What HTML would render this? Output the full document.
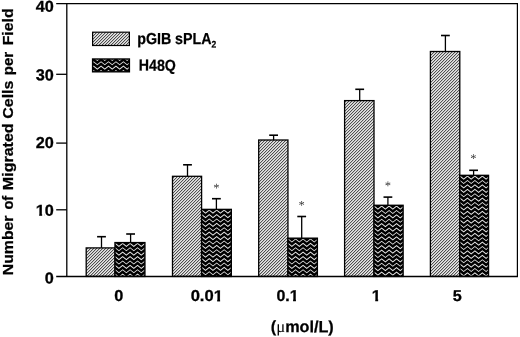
<!DOCTYPE html>
<html lang="en"><head><meta charset="utf-8"><title>Migrated cells per field</title>
<style>html,body{margin:0;padding:0;background:#fff}body{width:520px;height:337px;overflow:hidden}svg{display:block}text{font-family:"Liberation Sans", sans-serif;font-weight:bold;fill:#000;stroke:#000;stroke-width:0.25px}</style></head><body>
<svg width="520" height="337" viewBox="0 0 520 337">
<rect width="520" height="337" fill="#fff"/>
<defs>
</defs>
<path d="M101.50,247.90 V236.70" stroke="#000" stroke-width="1.3" fill="none"/><path d="M97.10,236.70 H105.90" stroke="#000" stroke-width="1.6" fill="none"/>
<clipPath id="ch0"><rect x="86.20" y="247.90" width="28.80" height="28.50"/></clipPath><rect x="86.20" y="247.90" width="28.80" height="28.50" fill="#fff"/><g clip-path="url(#ch0)"><path d="M53.08,276.40 h1.30 l28.50,-28.50 h-1.30 zM56.08,276.40 h1.30 l28.50,-28.50 h-1.30 zM59.08,276.40 h1.30 l28.50,-28.50 h-1.30 zM62.08,276.40 h1.30 l28.50,-28.50 h-1.30 zM65.08,276.40 h1.30 l28.50,-28.50 h-1.30 zM68.08,276.40 h1.30 l28.50,-28.50 h-1.30 zM71.08,276.40 h1.30 l28.50,-28.50 h-1.30 zM74.08,276.40 h1.30 l28.50,-28.50 h-1.30 zM77.08,276.40 h1.30 l28.50,-28.50 h-1.30 zM80.08,276.40 h1.30 l28.50,-28.50 h-1.30 zM83.08,276.40 h1.30 l28.50,-28.50 h-1.30 zM86.08,276.40 h1.30 l28.50,-28.50 h-1.30 zM89.08,276.40 h1.30 l28.50,-28.50 h-1.30 zM92.08,276.40 h1.30 l28.50,-28.50 h-1.30 zM95.08,276.40 h1.30 l28.50,-28.50 h-1.30 zM98.08,276.40 h1.30 l28.50,-28.50 h-1.30 zM101.08,276.40 h1.30 l28.50,-28.50 h-1.30 zM104.08,276.40 h1.30 l28.50,-28.50 h-1.30 zM107.08,276.40 h1.30 l28.50,-28.50 h-1.30 zM110.08,276.40 h1.30 l28.50,-28.50 h-1.30 zM113.08,276.40 h1.30 l28.50,-28.50 h-1.30 zM116.08,276.40 h1.30 l28.50,-28.50 h-1.30 z" fill="#333" stroke="none"/></g><rect x="86.20" y="247.90" width="28.80" height="28.50" fill="none" stroke="#000" stroke-width="1.30"/>
<path d="M130.60,242.60 V234.00" stroke="#000" stroke-width="1.3" fill="none"/><path d="M126.20,234.00 H135.00" stroke="#000" stroke-width="1.6" fill="none"/>
<clipPath id="cw1"><rect x="115.00" y="242.60" width="29.90" height="33.80"/></clipPath><rect x="115.00" y="242.60" width="29.90" height="33.80" fill="#000"/><path clip-path="url(#cw1)" d="M107.75,238.40 L111.47,241.40 L115.20,238.40 L118.92,241.40 L122.65,238.40 L126.38,241.40 L130.10,238.40 L133.82,241.40 L137.55,238.40 L141.27,241.40 L145.00,238.40 L148.72,241.40 L148.72,242.55 L145.00,239.55 L141.27,242.55 L137.55,239.55 L133.82,242.55 L130.10,239.55 L126.38,242.55 L122.65,239.55 L118.92,242.55 L115.20,239.55 L111.47,242.55 L107.75,239.55Z M107.75,242.80 L111.47,245.80 L115.20,242.80 L118.92,245.80 L122.65,242.80 L126.38,245.80 L130.10,242.80 L133.82,245.80 L137.55,242.80 L141.27,245.80 L145.00,242.80 L148.72,245.80 L148.72,246.95 L145.00,243.95 L141.27,246.95 L137.55,243.95 L133.82,246.95 L130.10,243.95 L126.38,246.95 L122.65,243.95 L118.92,246.95 L115.20,243.95 L111.47,246.95 L107.75,243.95Z M107.75,247.20 L111.47,250.20 L115.20,247.20 L118.92,250.20 L122.65,247.20 L126.38,250.20 L130.10,247.20 L133.82,250.20 L137.55,247.20 L141.27,250.20 L145.00,247.20 L148.72,250.20 L148.72,251.35 L145.00,248.35 L141.27,251.35 L137.55,248.35 L133.82,251.35 L130.10,248.35 L126.38,251.35 L122.65,248.35 L118.92,251.35 L115.20,248.35 L111.47,251.35 L107.75,248.35Z M107.75,251.60 L111.47,254.60 L115.20,251.60 L118.92,254.60 L122.65,251.60 L126.38,254.60 L130.10,251.60 L133.82,254.60 L137.55,251.60 L141.27,254.60 L145.00,251.60 L148.72,254.60 L148.72,255.75 L145.00,252.75 L141.27,255.75 L137.55,252.75 L133.82,255.75 L130.10,252.75 L126.38,255.75 L122.65,252.75 L118.92,255.75 L115.20,252.75 L111.47,255.75 L107.75,252.75Z M107.75,256.00 L111.47,259.00 L115.20,256.00 L118.92,259.00 L122.65,256.00 L126.38,259.00 L130.10,256.00 L133.82,259.00 L137.55,256.00 L141.27,259.00 L145.00,256.00 L148.72,259.00 L148.72,260.15 L145.00,257.15 L141.27,260.15 L137.55,257.15 L133.82,260.15 L130.10,257.15 L126.38,260.15 L122.65,257.15 L118.92,260.15 L115.20,257.15 L111.47,260.15 L107.75,257.15Z M107.75,260.40 L111.47,263.40 L115.20,260.40 L118.92,263.40 L122.65,260.40 L126.38,263.40 L130.10,260.40 L133.82,263.40 L137.55,260.40 L141.27,263.40 L145.00,260.40 L148.72,263.40 L148.72,264.55 L145.00,261.55 L141.27,264.55 L137.55,261.55 L133.82,264.55 L130.10,261.55 L126.38,264.55 L122.65,261.55 L118.92,264.55 L115.20,261.55 L111.47,264.55 L107.75,261.55Z M107.75,264.80 L111.47,267.80 L115.20,264.80 L118.92,267.80 L122.65,264.80 L126.38,267.80 L130.10,264.80 L133.82,267.80 L137.55,264.80 L141.27,267.80 L145.00,264.80 L148.72,267.80 L148.72,268.95 L145.00,265.95 L141.27,268.95 L137.55,265.95 L133.82,268.95 L130.10,265.95 L126.38,268.95 L122.65,265.95 L118.92,268.95 L115.20,265.95 L111.47,268.95 L107.75,265.95Z M107.75,269.20 L111.47,272.20 L115.20,269.20 L118.92,272.20 L122.65,269.20 L126.38,272.20 L130.10,269.20 L133.82,272.20 L137.55,269.20 L141.27,272.20 L145.00,269.20 L148.72,272.20 L148.72,273.35 L145.00,270.35 L141.27,273.35 L137.55,270.35 L133.82,273.35 L130.10,270.35 L126.38,273.35 L122.65,270.35 L118.92,273.35 L115.20,270.35 L111.47,273.35 L107.75,270.35Z M107.75,273.60 L111.47,276.60 L115.20,273.60 L118.92,276.60 L122.65,273.60 L126.38,276.60 L130.10,273.60 L133.82,276.60 L137.55,273.60 L141.27,276.60 L145.00,273.60 L148.72,276.60 L148.72,277.75 L145.00,274.75 L141.27,277.75 L137.55,274.75 L133.82,277.75 L130.10,274.75 L126.38,277.75 L122.65,274.75 L118.92,277.75 L115.20,274.75 L111.47,277.75 L107.75,274.75Z M107.75,278.00 L111.47,281.00 L115.20,278.00 L118.92,281.00 L122.65,278.00 L126.38,281.00 L130.10,278.00 L133.82,281.00 L137.55,278.00 L141.27,281.00 L145.00,278.00 L148.72,281.00 L148.72,282.15 L145.00,279.15 L141.27,282.15 L137.55,279.15 L133.82,282.15 L130.10,279.15 L126.38,282.15 L122.65,279.15 L118.92,282.15 L115.20,279.15 L111.47,282.15 L107.75,279.15Z" fill="#e8e8e8" stroke="none"/>
<rect x="115.00" y="242.60" width="29.90" height="33.80" fill="none" stroke="#000" stroke-width="1.4"/>
<path d="M187.50,176.30 V164.80" stroke="#000" stroke-width="1.3" fill="none"/><path d="M183.10,164.80 H191.90" stroke="#000" stroke-width="1.6" fill="none"/>
<clipPath id="ch2"><rect x="172.50" y="176.30" width="29.10" height="100.10"/></clipPath><rect x="172.50" y="176.30" width="29.10" height="100.10" fill="#fff"/><g clip-path="url(#ch2)"><path d="M68.08,276.40 h1.30 l100.10,-100.10 h-1.30 zM71.08,276.40 h1.30 l100.10,-100.10 h-1.30 zM74.08,276.40 h1.30 l100.10,-100.10 h-1.30 zM77.08,276.40 h1.30 l100.10,-100.10 h-1.30 zM80.08,276.40 h1.30 l100.10,-100.10 h-1.30 zM83.08,276.40 h1.30 l100.10,-100.10 h-1.30 zM86.08,276.40 h1.30 l100.10,-100.10 h-1.30 zM89.08,276.40 h1.30 l100.10,-100.10 h-1.30 zM92.08,276.40 h1.30 l100.10,-100.10 h-1.30 zM95.08,276.40 h1.30 l100.10,-100.10 h-1.30 zM98.08,276.40 h1.30 l100.10,-100.10 h-1.30 zM101.08,276.40 h1.30 l100.10,-100.10 h-1.30 zM104.08,276.40 h1.30 l100.10,-100.10 h-1.30 zM107.08,276.40 h1.30 l100.10,-100.10 h-1.30 zM110.08,276.40 h1.30 l100.10,-100.10 h-1.30 zM113.08,276.40 h1.30 l100.10,-100.10 h-1.30 zM116.08,276.40 h1.30 l100.10,-100.10 h-1.30 zM119.08,276.40 h1.30 l100.10,-100.10 h-1.30 zM122.08,276.40 h1.30 l100.10,-100.10 h-1.30 zM125.08,276.40 h1.30 l100.10,-100.10 h-1.30 zM128.08,276.40 h1.30 l100.10,-100.10 h-1.30 zM131.08,276.40 h1.30 l100.10,-100.10 h-1.30 zM134.08,276.40 h1.30 l100.10,-100.10 h-1.30 zM137.08,276.40 h1.30 l100.10,-100.10 h-1.30 zM140.08,276.40 h1.30 l100.10,-100.10 h-1.30 zM143.08,276.40 h1.30 l100.10,-100.10 h-1.30 zM146.08,276.40 h1.30 l100.10,-100.10 h-1.30 zM149.08,276.40 h1.30 l100.10,-100.10 h-1.30 zM152.08,276.40 h1.30 l100.10,-100.10 h-1.30 zM155.08,276.40 h1.30 l100.10,-100.10 h-1.30 zM158.08,276.40 h1.30 l100.10,-100.10 h-1.30 zM161.08,276.40 h1.30 l100.10,-100.10 h-1.30 zM164.08,276.40 h1.30 l100.10,-100.10 h-1.30 zM167.08,276.40 h1.30 l100.10,-100.10 h-1.30 zM170.08,276.40 h1.30 l100.10,-100.10 h-1.30 zM173.08,276.40 h1.30 l100.10,-100.10 h-1.30 zM176.08,276.40 h1.30 l100.10,-100.10 h-1.30 zM179.08,276.40 h1.30 l100.10,-100.10 h-1.30 zM182.08,276.40 h1.30 l100.10,-100.10 h-1.30 zM185.08,276.40 h1.30 l100.10,-100.10 h-1.30 zM188.08,276.40 h1.30 l100.10,-100.10 h-1.30 zM191.08,276.40 h1.30 l100.10,-100.10 h-1.30 zM194.08,276.40 h1.30 l100.10,-100.10 h-1.30 zM197.08,276.40 h1.30 l100.10,-100.10 h-1.30 zM200.08,276.40 h1.30 l100.10,-100.10 h-1.30 zM203.08,276.40 h1.30 l100.10,-100.10 h-1.30 z" fill="#333" stroke="none"/></g><rect x="172.50" y="176.30" width="29.10" height="100.10" fill="none" stroke="#000" stroke-width="1.30"/>
<path d="M216.40,209.40 V198.70" stroke="#000" stroke-width="1.3" fill="none"/><path d="M212.00,198.70 H220.80" stroke="#000" stroke-width="1.6" fill="none"/>
<clipPath id="cw3"><rect x="201.60" y="209.40" width="29.70" height="67.00"/></clipPath><rect x="201.60" y="209.40" width="29.70" height="67.00" fill="#000"/><path clip-path="url(#cw3)" d="M194.35,205.20 L198.07,208.20 L201.80,205.20 L205.52,208.20 L209.25,205.20 L212.97,208.20 L216.70,205.20 L220.42,208.20 L224.15,205.20 L227.87,208.20 L231.60,205.20 L235.32,208.20 L235.32,209.35 L231.60,206.35 L227.87,209.35 L224.15,206.35 L220.42,209.35 L216.70,206.35 L212.97,209.35 L209.25,206.35 L205.52,209.35 L201.80,206.35 L198.07,209.35 L194.35,206.35Z M194.35,209.60 L198.07,212.60 L201.80,209.60 L205.52,212.60 L209.25,209.60 L212.97,212.60 L216.70,209.60 L220.42,212.60 L224.15,209.60 L227.87,212.60 L231.60,209.60 L235.32,212.60 L235.32,213.75 L231.60,210.75 L227.87,213.75 L224.15,210.75 L220.42,213.75 L216.70,210.75 L212.97,213.75 L209.25,210.75 L205.52,213.75 L201.80,210.75 L198.07,213.75 L194.35,210.75Z M194.35,214.00 L198.07,217.00 L201.80,214.00 L205.52,217.00 L209.25,214.00 L212.97,217.00 L216.70,214.00 L220.42,217.00 L224.15,214.00 L227.87,217.00 L231.60,214.00 L235.32,217.00 L235.32,218.15 L231.60,215.15 L227.87,218.15 L224.15,215.15 L220.42,218.15 L216.70,215.15 L212.97,218.15 L209.25,215.15 L205.52,218.15 L201.80,215.15 L198.07,218.15 L194.35,215.15Z M194.35,218.40 L198.07,221.40 L201.80,218.40 L205.52,221.40 L209.25,218.40 L212.97,221.40 L216.70,218.40 L220.42,221.40 L224.15,218.40 L227.87,221.40 L231.60,218.40 L235.32,221.40 L235.32,222.55 L231.60,219.55 L227.87,222.55 L224.15,219.55 L220.42,222.55 L216.70,219.55 L212.97,222.55 L209.25,219.55 L205.52,222.55 L201.80,219.55 L198.07,222.55 L194.35,219.55Z M194.35,222.80 L198.07,225.80 L201.80,222.80 L205.52,225.80 L209.25,222.80 L212.97,225.80 L216.70,222.80 L220.42,225.80 L224.15,222.80 L227.87,225.80 L231.60,222.80 L235.32,225.80 L235.32,226.95 L231.60,223.95 L227.87,226.95 L224.15,223.95 L220.42,226.95 L216.70,223.95 L212.97,226.95 L209.25,223.95 L205.52,226.95 L201.80,223.95 L198.07,226.95 L194.35,223.95Z M194.35,227.20 L198.07,230.20 L201.80,227.20 L205.52,230.20 L209.25,227.20 L212.97,230.20 L216.70,227.20 L220.42,230.20 L224.15,227.20 L227.87,230.20 L231.60,227.20 L235.32,230.20 L235.32,231.35 L231.60,228.35 L227.87,231.35 L224.15,228.35 L220.42,231.35 L216.70,228.35 L212.97,231.35 L209.25,228.35 L205.52,231.35 L201.80,228.35 L198.07,231.35 L194.35,228.35Z M194.35,231.60 L198.07,234.60 L201.80,231.60 L205.52,234.60 L209.25,231.60 L212.97,234.60 L216.70,231.60 L220.42,234.60 L224.15,231.60 L227.87,234.60 L231.60,231.60 L235.32,234.60 L235.32,235.75 L231.60,232.75 L227.87,235.75 L224.15,232.75 L220.42,235.75 L216.70,232.75 L212.97,235.75 L209.25,232.75 L205.52,235.75 L201.80,232.75 L198.07,235.75 L194.35,232.75Z M194.35,236.00 L198.07,239.00 L201.80,236.00 L205.52,239.00 L209.25,236.00 L212.97,239.00 L216.70,236.00 L220.42,239.00 L224.15,236.00 L227.87,239.00 L231.60,236.00 L235.32,239.00 L235.32,240.15 L231.60,237.15 L227.87,240.15 L224.15,237.15 L220.42,240.15 L216.70,237.15 L212.97,240.15 L209.25,237.15 L205.52,240.15 L201.80,237.15 L198.07,240.15 L194.35,237.15Z M194.35,240.40 L198.07,243.40 L201.80,240.40 L205.52,243.40 L209.25,240.40 L212.97,243.40 L216.70,240.40 L220.42,243.40 L224.15,240.40 L227.87,243.40 L231.60,240.40 L235.32,243.40 L235.32,244.55 L231.60,241.55 L227.87,244.55 L224.15,241.55 L220.42,244.55 L216.70,241.55 L212.97,244.55 L209.25,241.55 L205.52,244.55 L201.80,241.55 L198.07,244.55 L194.35,241.55Z M194.35,244.80 L198.07,247.80 L201.80,244.80 L205.52,247.80 L209.25,244.80 L212.97,247.80 L216.70,244.80 L220.42,247.80 L224.15,244.80 L227.87,247.80 L231.60,244.80 L235.32,247.80 L235.32,248.95 L231.60,245.95 L227.87,248.95 L224.15,245.95 L220.42,248.95 L216.70,245.95 L212.97,248.95 L209.25,245.95 L205.52,248.95 L201.80,245.95 L198.07,248.95 L194.35,245.95Z M194.35,249.20 L198.07,252.20 L201.80,249.20 L205.52,252.20 L209.25,249.20 L212.97,252.20 L216.70,249.20 L220.42,252.20 L224.15,249.20 L227.87,252.20 L231.60,249.20 L235.32,252.20 L235.32,253.35 L231.60,250.35 L227.87,253.35 L224.15,250.35 L220.42,253.35 L216.70,250.35 L212.97,253.35 L209.25,250.35 L205.52,253.35 L201.80,250.35 L198.07,253.35 L194.35,250.35Z M194.35,253.60 L198.07,256.60 L201.80,253.60 L205.52,256.60 L209.25,253.60 L212.97,256.60 L216.70,253.60 L220.42,256.60 L224.15,253.60 L227.87,256.60 L231.60,253.60 L235.32,256.60 L235.32,257.75 L231.60,254.75 L227.87,257.75 L224.15,254.75 L220.42,257.75 L216.70,254.75 L212.97,257.75 L209.25,254.75 L205.52,257.75 L201.80,254.75 L198.07,257.75 L194.35,254.75Z M194.35,258.00 L198.07,261.00 L201.80,258.00 L205.52,261.00 L209.25,258.00 L212.97,261.00 L216.70,258.00 L220.42,261.00 L224.15,258.00 L227.87,261.00 L231.60,258.00 L235.32,261.00 L235.32,262.15 L231.60,259.15 L227.87,262.15 L224.15,259.15 L220.42,262.15 L216.70,259.15 L212.97,262.15 L209.25,259.15 L205.52,262.15 L201.80,259.15 L198.07,262.15 L194.35,259.15Z M194.35,262.40 L198.07,265.40 L201.80,262.40 L205.52,265.40 L209.25,262.40 L212.97,265.40 L216.70,262.40 L220.42,265.40 L224.15,262.40 L227.87,265.40 L231.60,262.40 L235.32,265.40 L235.32,266.55 L231.60,263.55 L227.87,266.55 L224.15,263.55 L220.42,266.55 L216.70,263.55 L212.97,266.55 L209.25,263.55 L205.52,266.55 L201.80,263.55 L198.07,266.55 L194.35,263.55Z M194.35,266.80 L198.07,269.80 L201.80,266.80 L205.52,269.80 L209.25,266.80 L212.97,269.80 L216.70,266.80 L220.42,269.80 L224.15,266.80 L227.87,269.80 L231.60,266.80 L235.32,269.80 L235.32,270.95 L231.60,267.95 L227.87,270.95 L224.15,267.95 L220.42,270.95 L216.70,267.95 L212.97,270.95 L209.25,267.95 L205.52,270.95 L201.80,267.95 L198.07,270.95 L194.35,267.95Z M194.35,271.20 L198.07,274.20 L201.80,271.20 L205.52,274.20 L209.25,271.20 L212.97,274.20 L216.70,271.20 L220.42,274.20 L224.15,271.20 L227.87,274.20 L231.60,271.20 L235.32,274.20 L235.32,275.35 L231.60,272.35 L227.87,275.35 L224.15,272.35 L220.42,275.35 L216.70,272.35 L212.97,275.35 L209.25,272.35 L205.52,275.35 L201.80,272.35 L198.07,275.35 L194.35,272.35Z M194.35,275.60 L198.07,278.60 L201.80,275.60 L205.52,278.60 L209.25,275.60 L212.97,278.60 L216.70,275.60 L220.42,278.60 L224.15,275.60 L227.87,278.60 L231.60,275.60 L235.32,278.60 L235.32,279.75 L231.60,276.75 L227.87,279.75 L224.15,276.75 L220.42,279.75 L216.70,276.75 L212.97,279.75 L209.25,276.75 L205.52,279.75 L201.80,276.75 L198.07,279.75 L194.35,276.75Z M194.35,280.00 L198.07,283.00 L201.80,280.00 L205.52,283.00 L209.25,280.00 L212.97,283.00 L216.70,280.00 L220.42,283.00 L224.15,280.00 L227.87,283.00 L231.60,280.00 L235.32,283.00 L235.32,284.15 L231.60,281.15 L227.87,284.15 L224.15,281.15 L220.42,284.15 L216.70,281.15 L212.97,284.15 L209.25,281.15 L205.52,284.15 L201.80,281.15 L198.07,284.15 L194.35,281.15Z" fill="#e8e8e8" stroke="none"/>
<rect x="201.60" y="209.40" width="29.70" height="67.00" fill="none" stroke="#000" stroke-width="1.4"/>
<path d="M273.60,140.00 V135.20" stroke="#000" stroke-width="1.3" fill="none"/><path d="M269.20,135.20 H278.00" stroke="#000" stroke-width="1.6" fill="none"/>
<clipPath id="ch4"><rect x="258.70" y="140.00" width="29.25" height="136.40"/></clipPath><rect x="258.70" y="140.00" width="29.25" height="136.40" fill="#fff"/><g clip-path="url(#ch4)"><path d="M119.08,276.40 h1.30 l136.40,-136.40 h-1.30 zM122.08,276.40 h1.30 l136.40,-136.40 h-1.30 zM125.08,276.40 h1.30 l136.40,-136.40 h-1.30 zM128.08,276.40 h1.30 l136.40,-136.40 h-1.30 zM131.08,276.40 h1.30 l136.40,-136.40 h-1.30 zM134.08,276.40 h1.30 l136.40,-136.40 h-1.30 zM137.08,276.40 h1.30 l136.40,-136.40 h-1.30 zM140.08,276.40 h1.30 l136.40,-136.40 h-1.30 zM143.08,276.40 h1.30 l136.40,-136.40 h-1.30 zM146.08,276.40 h1.30 l136.40,-136.40 h-1.30 zM149.08,276.40 h1.30 l136.40,-136.40 h-1.30 zM152.08,276.40 h1.30 l136.40,-136.40 h-1.30 zM155.08,276.40 h1.30 l136.40,-136.40 h-1.30 zM158.08,276.40 h1.30 l136.40,-136.40 h-1.30 zM161.08,276.40 h1.30 l136.40,-136.40 h-1.30 zM164.08,276.40 h1.30 l136.40,-136.40 h-1.30 zM167.08,276.40 h1.30 l136.40,-136.40 h-1.30 zM170.08,276.40 h1.30 l136.40,-136.40 h-1.30 zM173.08,276.40 h1.30 l136.40,-136.40 h-1.30 zM176.08,276.40 h1.30 l136.40,-136.40 h-1.30 zM179.08,276.40 h1.30 l136.40,-136.40 h-1.30 zM182.08,276.40 h1.30 l136.40,-136.40 h-1.30 zM185.08,276.40 h1.30 l136.40,-136.40 h-1.30 zM188.08,276.40 h1.30 l136.40,-136.40 h-1.30 zM191.08,276.40 h1.30 l136.40,-136.40 h-1.30 zM194.08,276.40 h1.30 l136.40,-136.40 h-1.30 zM197.08,276.40 h1.30 l136.40,-136.40 h-1.30 zM200.08,276.40 h1.30 l136.40,-136.40 h-1.30 zM203.08,276.40 h1.30 l136.40,-136.40 h-1.30 zM206.08,276.40 h1.30 l136.40,-136.40 h-1.30 zM209.08,276.40 h1.30 l136.40,-136.40 h-1.30 zM212.08,276.40 h1.30 l136.40,-136.40 h-1.30 zM215.08,276.40 h1.30 l136.40,-136.40 h-1.30 zM218.08,276.40 h1.30 l136.40,-136.40 h-1.30 zM221.08,276.40 h1.30 l136.40,-136.40 h-1.30 zM224.08,276.40 h1.30 l136.40,-136.40 h-1.30 zM227.08,276.40 h1.30 l136.40,-136.40 h-1.30 zM230.08,276.40 h1.30 l136.40,-136.40 h-1.30 zM233.08,276.40 h1.30 l136.40,-136.40 h-1.30 zM236.08,276.40 h1.30 l136.40,-136.40 h-1.30 zM239.08,276.40 h1.30 l136.40,-136.40 h-1.30 zM242.08,276.40 h1.30 l136.40,-136.40 h-1.30 zM245.08,276.40 h1.30 l136.40,-136.40 h-1.30 zM248.08,276.40 h1.30 l136.40,-136.40 h-1.30 zM251.08,276.40 h1.30 l136.40,-136.40 h-1.30 zM254.08,276.40 h1.30 l136.40,-136.40 h-1.30 zM257.08,276.40 h1.30 l136.40,-136.40 h-1.30 zM260.08,276.40 h1.30 l136.40,-136.40 h-1.30 zM263.08,276.40 h1.30 l136.40,-136.40 h-1.30 zM266.08,276.40 h1.30 l136.40,-136.40 h-1.30 zM269.08,276.40 h1.30 l136.40,-136.40 h-1.30 zM272.08,276.40 h1.30 l136.40,-136.40 h-1.30 zM275.08,276.40 h1.30 l136.40,-136.40 h-1.30 zM278.08,276.40 h1.30 l136.40,-136.40 h-1.30 zM281.08,276.40 h1.30 l136.40,-136.40 h-1.30 zM284.08,276.40 h1.30 l136.40,-136.40 h-1.30 zM287.08,276.40 h1.30 l136.40,-136.40 h-1.30 zM290.08,276.40 h1.30 l136.40,-136.40 h-1.30 z" fill="#333" stroke="none"/></g><rect x="258.70" y="140.00" width="29.25" height="136.40" fill="none" stroke="#000" stroke-width="1.30"/>
<path d="M301.70,238.20 V216.50" stroke="#000" stroke-width="1.3" fill="none"/><path d="M297.30,216.50 H306.10" stroke="#000" stroke-width="1.6" fill="none"/>
<clipPath id="cw5"><rect x="287.95" y="238.20" width="29.40" height="38.20"/></clipPath><rect x="287.95" y="238.20" width="29.40" height="38.20" fill="#000"/><path clip-path="url(#cw5)" d="M280.70,234.00 L284.43,237.00 L288.15,234.00 L291.88,237.00 L295.60,234.00 L299.32,237.00 L303.05,234.00 L306.77,237.00 L310.50,234.00 L314.22,237.00 L317.95,234.00 L321.67,237.00 L321.67,238.15 L317.95,235.15 L314.22,238.15 L310.50,235.15 L306.77,238.15 L303.05,235.15 L299.32,238.15 L295.60,235.15 L291.88,238.15 L288.15,235.15 L284.43,238.15 L280.70,235.15Z M280.70,238.40 L284.43,241.40 L288.15,238.40 L291.88,241.40 L295.60,238.40 L299.32,241.40 L303.05,238.40 L306.77,241.40 L310.50,238.40 L314.22,241.40 L317.95,238.40 L321.67,241.40 L321.67,242.55 L317.95,239.55 L314.22,242.55 L310.50,239.55 L306.77,242.55 L303.05,239.55 L299.32,242.55 L295.60,239.55 L291.88,242.55 L288.15,239.55 L284.43,242.55 L280.70,239.55Z M280.70,242.80 L284.43,245.80 L288.15,242.80 L291.88,245.80 L295.60,242.80 L299.32,245.80 L303.05,242.80 L306.77,245.80 L310.50,242.80 L314.22,245.80 L317.95,242.80 L321.67,245.80 L321.67,246.95 L317.95,243.95 L314.22,246.95 L310.50,243.95 L306.77,246.95 L303.05,243.95 L299.32,246.95 L295.60,243.95 L291.88,246.95 L288.15,243.95 L284.43,246.95 L280.70,243.95Z M280.70,247.20 L284.43,250.20 L288.15,247.20 L291.88,250.20 L295.60,247.20 L299.32,250.20 L303.05,247.20 L306.77,250.20 L310.50,247.20 L314.22,250.20 L317.95,247.20 L321.67,250.20 L321.67,251.35 L317.95,248.35 L314.22,251.35 L310.50,248.35 L306.77,251.35 L303.05,248.35 L299.32,251.35 L295.60,248.35 L291.88,251.35 L288.15,248.35 L284.43,251.35 L280.70,248.35Z M280.70,251.60 L284.43,254.60 L288.15,251.60 L291.88,254.60 L295.60,251.60 L299.32,254.60 L303.05,251.60 L306.77,254.60 L310.50,251.60 L314.22,254.60 L317.95,251.60 L321.67,254.60 L321.67,255.75 L317.95,252.75 L314.22,255.75 L310.50,252.75 L306.77,255.75 L303.05,252.75 L299.32,255.75 L295.60,252.75 L291.88,255.75 L288.15,252.75 L284.43,255.75 L280.70,252.75Z M280.70,256.00 L284.43,259.00 L288.15,256.00 L291.88,259.00 L295.60,256.00 L299.32,259.00 L303.05,256.00 L306.77,259.00 L310.50,256.00 L314.22,259.00 L317.95,256.00 L321.67,259.00 L321.67,260.15 L317.95,257.15 L314.22,260.15 L310.50,257.15 L306.77,260.15 L303.05,257.15 L299.32,260.15 L295.60,257.15 L291.88,260.15 L288.15,257.15 L284.43,260.15 L280.70,257.15Z M280.70,260.40 L284.43,263.40 L288.15,260.40 L291.88,263.40 L295.60,260.40 L299.32,263.40 L303.05,260.40 L306.77,263.40 L310.50,260.40 L314.22,263.40 L317.95,260.40 L321.67,263.40 L321.67,264.55 L317.95,261.55 L314.22,264.55 L310.50,261.55 L306.77,264.55 L303.05,261.55 L299.32,264.55 L295.60,261.55 L291.88,264.55 L288.15,261.55 L284.43,264.55 L280.70,261.55Z M280.70,264.80 L284.43,267.80 L288.15,264.80 L291.88,267.80 L295.60,264.80 L299.32,267.80 L303.05,264.80 L306.77,267.80 L310.50,264.80 L314.22,267.80 L317.95,264.80 L321.67,267.80 L321.67,268.95 L317.95,265.95 L314.22,268.95 L310.50,265.95 L306.77,268.95 L303.05,265.95 L299.32,268.95 L295.60,265.95 L291.88,268.95 L288.15,265.95 L284.43,268.95 L280.70,265.95Z M280.70,269.20 L284.43,272.20 L288.15,269.20 L291.88,272.20 L295.60,269.20 L299.32,272.20 L303.05,269.20 L306.77,272.20 L310.50,269.20 L314.22,272.20 L317.95,269.20 L321.67,272.20 L321.67,273.35 L317.95,270.35 L314.22,273.35 L310.50,270.35 L306.77,273.35 L303.05,270.35 L299.32,273.35 L295.60,270.35 L291.88,273.35 L288.15,270.35 L284.43,273.35 L280.70,270.35Z M280.70,273.60 L284.43,276.60 L288.15,273.60 L291.88,276.60 L295.60,273.60 L299.32,276.60 L303.05,273.60 L306.77,276.60 L310.50,273.60 L314.22,276.60 L317.95,273.60 L321.67,276.60 L321.67,277.75 L317.95,274.75 L314.22,277.75 L310.50,274.75 L306.77,277.75 L303.05,274.75 L299.32,277.75 L295.60,274.75 L291.88,277.75 L288.15,274.75 L284.43,277.75 L280.70,274.75Z M280.70,278.00 L284.43,281.00 L288.15,278.00 L291.88,281.00 L295.60,278.00 L299.32,281.00 L303.05,278.00 L306.77,281.00 L310.50,278.00 L314.22,281.00 L317.95,278.00 L321.67,281.00 L321.67,282.15 L317.95,279.15 L314.22,282.15 L310.50,279.15 L306.77,282.15 L303.05,279.15 L299.32,282.15 L295.60,279.15 L291.88,282.15 L288.15,279.15 L284.43,282.15 L280.70,279.15Z" fill="#e8e8e8" stroke="none"/>
<rect x="287.95" y="238.20" width="29.40" height="38.20" fill="none" stroke="#000" stroke-width="1.4"/>
<path d="M359.70,100.60 V89.30" stroke="#000" stroke-width="1.3" fill="none"/><path d="M355.30,89.30 H364.10" stroke="#000" stroke-width="1.6" fill="none"/>
<clipPath id="ch6"><rect x="344.60" y="100.60" width="29.40" height="175.80"/></clipPath><rect x="344.60" y="100.60" width="29.40" height="175.80" fill="#fff"/><g clip-path="url(#ch6)"><path d="M164.08,276.40 h1.30 l175.80,-175.80 h-1.30 zM167.08,276.40 h1.30 l175.80,-175.80 h-1.30 zM170.08,276.40 h1.30 l175.80,-175.80 h-1.30 zM173.08,276.40 h1.30 l175.80,-175.80 h-1.30 zM176.08,276.40 h1.30 l175.80,-175.80 h-1.30 zM179.08,276.40 h1.30 l175.80,-175.80 h-1.30 zM182.08,276.40 h1.30 l175.80,-175.80 h-1.30 zM185.08,276.40 h1.30 l175.80,-175.80 h-1.30 zM188.08,276.40 h1.30 l175.80,-175.80 h-1.30 zM191.08,276.40 h1.30 l175.80,-175.80 h-1.30 zM194.08,276.40 h1.30 l175.80,-175.80 h-1.30 zM197.08,276.40 h1.30 l175.80,-175.80 h-1.30 zM200.08,276.40 h1.30 l175.80,-175.80 h-1.30 zM203.08,276.40 h1.30 l175.80,-175.80 h-1.30 zM206.08,276.40 h1.30 l175.80,-175.80 h-1.30 zM209.08,276.40 h1.30 l175.80,-175.80 h-1.30 zM212.08,276.40 h1.30 l175.80,-175.80 h-1.30 zM215.08,276.40 h1.30 l175.80,-175.80 h-1.30 zM218.08,276.40 h1.30 l175.80,-175.80 h-1.30 zM221.08,276.40 h1.30 l175.80,-175.80 h-1.30 zM224.08,276.40 h1.30 l175.80,-175.80 h-1.30 zM227.08,276.40 h1.30 l175.80,-175.80 h-1.30 zM230.08,276.40 h1.30 l175.80,-175.80 h-1.30 zM233.08,276.40 h1.30 l175.80,-175.80 h-1.30 zM236.08,276.40 h1.30 l175.80,-175.80 h-1.30 zM239.08,276.40 h1.30 l175.80,-175.80 h-1.30 zM242.08,276.40 h1.30 l175.80,-175.80 h-1.30 zM245.08,276.40 h1.30 l175.80,-175.80 h-1.30 zM248.08,276.40 h1.30 l175.80,-175.80 h-1.30 zM251.08,276.40 h1.30 l175.80,-175.80 h-1.30 zM254.08,276.40 h1.30 l175.80,-175.80 h-1.30 zM257.08,276.40 h1.30 l175.80,-175.80 h-1.30 zM260.08,276.40 h1.30 l175.80,-175.80 h-1.30 zM263.08,276.40 h1.30 l175.80,-175.80 h-1.30 zM266.08,276.40 h1.30 l175.80,-175.80 h-1.30 zM269.08,276.40 h1.30 l175.80,-175.80 h-1.30 zM272.08,276.40 h1.30 l175.80,-175.80 h-1.30 zM275.08,276.40 h1.30 l175.80,-175.80 h-1.30 zM278.08,276.40 h1.30 l175.80,-175.80 h-1.30 zM281.08,276.40 h1.30 l175.80,-175.80 h-1.30 zM284.08,276.40 h1.30 l175.80,-175.80 h-1.30 zM287.08,276.40 h1.30 l175.80,-175.80 h-1.30 zM290.08,276.40 h1.30 l175.80,-175.80 h-1.30 zM293.08,276.40 h1.30 l175.80,-175.80 h-1.30 zM296.08,276.40 h1.30 l175.80,-175.80 h-1.30 zM299.08,276.40 h1.30 l175.80,-175.80 h-1.30 zM302.08,276.40 h1.30 l175.80,-175.80 h-1.30 zM305.08,276.40 h1.30 l175.80,-175.80 h-1.30 zM308.08,276.40 h1.30 l175.80,-175.80 h-1.30 zM311.08,276.40 h1.30 l175.80,-175.80 h-1.30 zM314.08,276.40 h1.30 l175.80,-175.80 h-1.30 zM317.08,276.40 h1.30 l175.80,-175.80 h-1.30 zM320.08,276.40 h1.30 l175.80,-175.80 h-1.30 zM323.08,276.40 h1.30 l175.80,-175.80 h-1.30 zM326.08,276.40 h1.30 l175.80,-175.80 h-1.30 zM329.08,276.40 h1.30 l175.80,-175.80 h-1.30 zM332.08,276.40 h1.30 l175.80,-175.80 h-1.30 zM335.08,276.40 h1.30 l175.80,-175.80 h-1.30 zM338.08,276.40 h1.30 l175.80,-175.80 h-1.30 zM341.08,276.40 h1.30 l175.80,-175.80 h-1.30 zM344.08,276.40 h1.30 l175.80,-175.80 h-1.30 zM347.08,276.40 h1.30 l175.80,-175.80 h-1.30 zM350.08,276.40 h1.30 l175.80,-175.80 h-1.30 zM353.08,276.40 h1.30 l175.80,-175.80 h-1.30 zM356.08,276.40 h1.30 l175.80,-175.80 h-1.30 zM359.08,276.40 h1.30 l175.80,-175.80 h-1.30 zM362.08,276.40 h1.30 l175.80,-175.80 h-1.30 zM365.08,276.40 h1.30 l175.80,-175.80 h-1.30 zM368.08,276.40 h1.30 l175.80,-175.80 h-1.30 zM371.08,276.40 h1.30 l175.80,-175.80 h-1.30 zM374.08,276.40 h1.30 l175.80,-175.80 h-1.30 z" fill="#333" stroke="none"/></g><rect x="344.60" y="100.60" width="29.40" height="175.80" fill="none" stroke="#000" stroke-width="1.30"/>
<path d="M387.90,205.30 V197.10" stroke="#000" stroke-width="1.3" fill="none"/><path d="M383.50,197.10 H392.30" stroke="#000" stroke-width="1.6" fill="none"/>
<clipPath id="cw7"><rect x="374.00" y="205.30" width="29.10" height="71.10"/></clipPath><rect x="374.00" y="205.30" width="29.10" height="71.10" fill="#000"/><path clip-path="url(#cw7)" d="M366.75,201.10 L370.48,204.10 L374.20,201.10 L377.93,204.10 L381.65,201.10 L385.38,204.10 L389.10,201.10 L392.82,204.10 L396.55,201.10 L400.27,204.10 L404.00,201.10 L407.72,204.10 L407.72,205.25 L404.00,202.25 L400.27,205.25 L396.55,202.25 L392.82,205.25 L389.10,202.25 L385.38,205.25 L381.65,202.25 L377.93,205.25 L374.20,202.25 L370.48,205.25 L366.75,202.25Z M366.75,205.50 L370.48,208.50 L374.20,205.50 L377.93,208.50 L381.65,205.50 L385.38,208.50 L389.10,205.50 L392.82,208.50 L396.55,205.50 L400.27,208.50 L404.00,205.50 L407.72,208.50 L407.72,209.65 L404.00,206.65 L400.27,209.65 L396.55,206.65 L392.82,209.65 L389.10,206.65 L385.38,209.65 L381.65,206.65 L377.93,209.65 L374.20,206.65 L370.48,209.65 L366.75,206.65Z M366.75,209.90 L370.48,212.90 L374.20,209.90 L377.93,212.90 L381.65,209.90 L385.38,212.90 L389.10,209.90 L392.82,212.90 L396.55,209.90 L400.27,212.90 L404.00,209.90 L407.72,212.90 L407.72,214.05 L404.00,211.05 L400.27,214.05 L396.55,211.05 L392.82,214.05 L389.10,211.05 L385.38,214.05 L381.65,211.05 L377.93,214.05 L374.20,211.05 L370.48,214.05 L366.75,211.05Z M366.75,214.30 L370.48,217.30 L374.20,214.30 L377.93,217.30 L381.65,214.30 L385.38,217.30 L389.10,214.30 L392.82,217.30 L396.55,214.30 L400.27,217.30 L404.00,214.30 L407.72,217.30 L407.72,218.45 L404.00,215.45 L400.27,218.45 L396.55,215.45 L392.82,218.45 L389.10,215.45 L385.38,218.45 L381.65,215.45 L377.93,218.45 L374.20,215.45 L370.48,218.45 L366.75,215.45Z M366.75,218.70 L370.48,221.70 L374.20,218.70 L377.93,221.70 L381.65,218.70 L385.38,221.70 L389.10,218.70 L392.82,221.70 L396.55,218.70 L400.27,221.70 L404.00,218.70 L407.72,221.70 L407.72,222.85 L404.00,219.85 L400.27,222.85 L396.55,219.85 L392.82,222.85 L389.10,219.85 L385.38,222.85 L381.65,219.85 L377.93,222.85 L374.20,219.85 L370.48,222.85 L366.75,219.85Z M366.75,223.10 L370.48,226.10 L374.20,223.10 L377.93,226.10 L381.65,223.10 L385.38,226.10 L389.10,223.10 L392.82,226.10 L396.55,223.10 L400.27,226.10 L404.00,223.10 L407.72,226.10 L407.72,227.25 L404.00,224.25 L400.27,227.25 L396.55,224.25 L392.82,227.25 L389.10,224.25 L385.38,227.25 L381.65,224.25 L377.93,227.25 L374.20,224.25 L370.48,227.25 L366.75,224.25Z M366.75,227.50 L370.48,230.50 L374.20,227.50 L377.93,230.50 L381.65,227.50 L385.38,230.50 L389.10,227.50 L392.82,230.50 L396.55,227.50 L400.27,230.50 L404.00,227.50 L407.72,230.50 L407.72,231.65 L404.00,228.65 L400.27,231.65 L396.55,228.65 L392.82,231.65 L389.10,228.65 L385.38,231.65 L381.65,228.65 L377.93,231.65 L374.20,228.65 L370.48,231.65 L366.75,228.65Z M366.75,231.90 L370.48,234.90 L374.20,231.90 L377.93,234.90 L381.65,231.90 L385.38,234.90 L389.10,231.90 L392.82,234.90 L396.55,231.90 L400.27,234.90 L404.00,231.90 L407.72,234.90 L407.72,236.05 L404.00,233.05 L400.27,236.05 L396.55,233.05 L392.82,236.05 L389.10,233.05 L385.38,236.05 L381.65,233.05 L377.93,236.05 L374.20,233.05 L370.48,236.05 L366.75,233.05Z M366.75,236.30 L370.48,239.30 L374.20,236.30 L377.93,239.30 L381.65,236.30 L385.38,239.30 L389.10,236.30 L392.82,239.30 L396.55,236.30 L400.27,239.30 L404.00,236.30 L407.72,239.30 L407.72,240.45 L404.00,237.45 L400.27,240.45 L396.55,237.45 L392.82,240.45 L389.10,237.45 L385.38,240.45 L381.65,237.45 L377.93,240.45 L374.20,237.45 L370.48,240.45 L366.75,237.45Z M366.75,240.70 L370.48,243.70 L374.20,240.70 L377.93,243.70 L381.65,240.70 L385.38,243.70 L389.10,240.70 L392.82,243.70 L396.55,240.70 L400.27,243.70 L404.00,240.70 L407.72,243.70 L407.72,244.85 L404.00,241.85 L400.27,244.85 L396.55,241.85 L392.82,244.85 L389.10,241.85 L385.38,244.85 L381.65,241.85 L377.93,244.85 L374.20,241.85 L370.48,244.85 L366.75,241.85Z M366.75,245.10 L370.48,248.10 L374.20,245.10 L377.93,248.10 L381.65,245.10 L385.38,248.10 L389.10,245.10 L392.82,248.10 L396.55,245.10 L400.27,248.10 L404.00,245.10 L407.72,248.10 L407.72,249.25 L404.00,246.25 L400.27,249.25 L396.55,246.25 L392.82,249.25 L389.10,246.25 L385.38,249.25 L381.65,246.25 L377.93,249.25 L374.20,246.25 L370.48,249.25 L366.75,246.25Z M366.75,249.50 L370.48,252.50 L374.20,249.50 L377.93,252.50 L381.65,249.50 L385.38,252.50 L389.10,249.50 L392.82,252.50 L396.55,249.50 L400.27,252.50 L404.00,249.50 L407.72,252.50 L407.72,253.65 L404.00,250.65 L400.27,253.65 L396.55,250.65 L392.82,253.65 L389.10,250.65 L385.38,253.65 L381.65,250.65 L377.93,253.65 L374.20,250.65 L370.48,253.65 L366.75,250.65Z M366.75,253.90 L370.48,256.90 L374.20,253.90 L377.93,256.90 L381.65,253.90 L385.38,256.90 L389.10,253.90 L392.82,256.90 L396.55,253.90 L400.27,256.90 L404.00,253.90 L407.72,256.90 L407.72,258.05 L404.00,255.05 L400.27,258.05 L396.55,255.05 L392.82,258.05 L389.10,255.05 L385.38,258.05 L381.65,255.05 L377.93,258.05 L374.20,255.05 L370.48,258.05 L366.75,255.05Z M366.75,258.30 L370.48,261.30 L374.20,258.30 L377.93,261.30 L381.65,258.30 L385.38,261.30 L389.10,258.30 L392.82,261.30 L396.55,258.30 L400.27,261.30 L404.00,258.30 L407.72,261.30 L407.72,262.45 L404.00,259.45 L400.27,262.45 L396.55,259.45 L392.82,262.45 L389.10,259.45 L385.38,262.45 L381.65,259.45 L377.93,262.45 L374.20,259.45 L370.48,262.45 L366.75,259.45Z M366.75,262.70 L370.48,265.70 L374.20,262.70 L377.93,265.70 L381.65,262.70 L385.38,265.70 L389.10,262.70 L392.82,265.70 L396.55,262.70 L400.27,265.70 L404.00,262.70 L407.72,265.70 L407.72,266.85 L404.00,263.85 L400.27,266.85 L396.55,263.85 L392.82,266.85 L389.10,263.85 L385.38,266.85 L381.65,263.85 L377.93,266.85 L374.20,263.85 L370.48,266.85 L366.75,263.85Z M366.75,267.10 L370.48,270.10 L374.20,267.10 L377.93,270.10 L381.65,267.10 L385.38,270.10 L389.10,267.10 L392.82,270.10 L396.55,267.10 L400.27,270.10 L404.00,267.10 L407.72,270.10 L407.72,271.25 L404.00,268.25 L400.27,271.25 L396.55,268.25 L392.82,271.25 L389.10,268.25 L385.38,271.25 L381.65,268.25 L377.93,271.25 L374.20,268.25 L370.48,271.25 L366.75,268.25Z M366.75,271.50 L370.48,274.50 L374.20,271.50 L377.93,274.50 L381.65,271.50 L385.38,274.50 L389.10,271.50 L392.82,274.50 L396.55,271.50 L400.27,274.50 L404.00,271.50 L407.72,274.50 L407.72,275.65 L404.00,272.65 L400.27,275.65 L396.55,272.65 L392.82,275.65 L389.10,272.65 L385.38,275.65 L381.65,272.65 L377.93,275.65 L374.20,272.65 L370.48,275.65 L366.75,272.65Z M366.75,275.90 L370.48,278.90 L374.20,275.90 L377.93,278.90 L381.65,275.90 L385.38,278.90 L389.10,275.90 L392.82,278.90 L396.55,275.90 L400.27,278.90 L404.00,275.90 L407.72,278.90 L407.72,280.05 L404.00,277.05 L400.27,280.05 L396.55,277.05 L392.82,280.05 L389.10,277.05 L385.38,280.05 L381.65,277.05 L377.93,280.05 L374.20,277.05 L370.48,280.05 L366.75,277.05Z M366.75,280.30 L370.48,283.30 L374.20,280.30 L377.93,283.30 L381.65,280.30 L385.38,283.30 L389.10,280.30 L392.82,283.30 L396.55,280.30 L400.27,283.30 L404.00,280.30 L407.72,283.30 L407.72,284.45 L404.00,281.45 L400.27,284.45 L396.55,281.45 L392.82,284.45 L389.10,281.45 L385.38,284.45 L381.65,281.45 L377.93,284.45 L374.20,281.45 L370.48,284.45 L366.75,281.45Z" fill="#e8e8e8" stroke="none"/>
<rect x="374.00" y="205.30" width="29.10" height="71.10" fill="none" stroke="#000" stroke-width="1.4"/>
<path d="M445.40,51.50 V35.50" stroke="#000" stroke-width="1.3" fill="none"/><path d="M441.00,35.50 H449.80" stroke="#000" stroke-width="1.6" fill="none"/>
<clipPath id="ch8"><rect x="430.40" y="51.50" width="29.40" height="224.90"/></clipPath><rect x="430.40" y="51.50" width="29.40" height="224.90" fill="#fff"/><g clip-path="url(#ch8)"><path d="M200.08,276.40 h1.30 l224.90,-224.90 h-1.30 zM203.08,276.40 h1.30 l224.90,-224.90 h-1.30 zM206.08,276.40 h1.30 l224.90,-224.90 h-1.30 zM209.08,276.40 h1.30 l224.90,-224.90 h-1.30 zM212.08,276.40 h1.30 l224.90,-224.90 h-1.30 zM215.08,276.40 h1.30 l224.90,-224.90 h-1.30 zM218.08,276.40 h1.30 l224.90,-224.90 h-1.30 zM221.08,276.40 h1.30 l224.90,-224.90 h-1.30 zM224.08,276.40 h1.30 l224.90,-224.90 h-1.30 zM227.08,276.40 h1.30 l224.90,-224.90 h-1.30 zM230.08,276.40 h1.30 l224.90,-224.90 h-1.30 zM233.08,276.40 h1.30 l224.90,-224.90 h-1.30 zM236.08,276.40 h1.30 l224.90,-224.90 h-1.30 zM239.08,276.40 h1.30 l224.90,-224.90 h-1.30 zM242.08,276.40 h1.30 l224.90,-224.90 h-1.30 zM245.08,276.40 h1.30 l224.90,-224.90 h-1.30 zM248.08,276.40 h1.30 l224.90,-224.90 h-1.30 zM251.08,276.40 h1.30 l224.90,-224.90 h-1.30 zM254.08,276.40 h1.30 l224.90,-224.90 h-1.30 zM257.08,276.40 h1.30 l224.90,-224.90 h-1.30 zM260.08,276.40 h1.30 l224.90,-224.90 h-1.30 zM263.08,276.40 h1.30 l224.90,-224.90 h-1.30 zM266.08,276.40 h1.30 l224.90,-224.90 h-1.30 zM269.08,276.40 h1.30 l224.90,-224.90 h-1.30 zM272.08,276.40 h1.30 l224.90,-224.90 h-1.30 zM275.08,276.40 h1.30 l224.90,-224.90 h-1.30 zM278.08,276.40 h1.30 l224.90,-224.90 h-1.30 zM281.08,276.40 h1.30 l224.90,-224.90 h-1.30 zM284.08,276.40 h1.30 l224.90,-224.90 h-1.30 zM287.08,276.40 h1.30 l224.90,-224.90 h-1.30 zM290.08,276.40 h1.30 l224.90,-224.90 h-1.30 zM293.08,276.40 h1.30 l224.90,-224.90 h-1.30 zM296.08,276.40 h1.30 l224.90,-224.90 h-1.30 zM299.08,276.40 h1.30 l224.90,-224.90 h-1.30 zM302.08,276.40 h1.30 l224.90,-224.90 h-1.30 zM305.08,276.40 h1.30 l224.90,-224.90 h-1.30 zM308.08,276.40 h1.30 l224.90,-224.90 h-1.30 zM311.08,276.40 h1.30 l224.90,-224.90 h-1.30 zM314.08,276.40 h1.30 l224.90,-224.90 h-1.30 zM317.08,276.40 h1.30 l224.90,-224.90 h-1.30 zM320.08,276.40 h1.30 l224.90,-224.90 h-1.30 zM323.08,276.40 h1.30 l224.90,-224.90 h-1.30 zM326.08,276.40 h1.30 l224.90,-224.90 h-1.30 zM329.08,276.40 h1.30 l224.90,-224.90 h-1.30 zM332.08,276.40 h1.30 l224.90,-224.90 h-1.30 zM335.08,276.40 h1.30 l224.90,-224.90 h-1.30 zM338.08,276.40 h1.30 l224.90,-224.90 h-1.30 zM341.08,276.40 h1.30 l224.90,-224.90 h-1.30 zM344.08,276.40 h1.30 l224.90,-224.90 h-1.30 zM347.08,276.40 h1.30 l224.90,-224.90 h-1.30 zM350.08,276.40 h1.30 l224.90,-224.90 h-1.30 zM353.08,276.40 h1.30 l224.90,-224.90 h-1.30 zM356.08,276.40 h1.30 l224.90,-224.90 h-1.30 zM359.08,276.40 h1.30 l224.90,-224.90 h-1.30 zM362.08,276.40 h1.30 l224.90,-224.90 h-1.30 zM365.08,276.40 h1.30 l224.90,-224.90 h-1.30 zM368.08,276.40 h1.30 l224.90,-224.90 h-1.30 zM371.08,276.40 h1.30 l224.90,-224.90 h-1.30 zM374.08,276.40 h1.30 l224.90,-224.90 h-1.30 zM377.08,276.40 h1.30 l224.90,-224.90 h-1.30 zM380.08,276.40 h1.30 l224.90,-224.90 h-1.30 zM383.08,276.40 h1.30 l224.90,-224.90 h-1.30 zM386.08,276.40 h1.30 l224.90,-224.90 h-1.30 zM389.08,276.40 h1.30 l224.90,-224.90 h-1.30 zM392.08,276.40 h1.30 l224.90,-224.90 h-1.30 zM395.08,276.40 h1.30 l224.90,-224.90 h-1.30 zM398.08,276.40 h1.30 l224.90,-224.90 h-1.30 zM401.08,276.40 h1.30 l224.90,-224.90 h-1.30 zM404.08,276.40 h1.30 l224.90,-224.90 h-1.30 zM407.08,276.40 h1.30 l224.90,-224.90 h-1.30 zM410.08,276.40 h1.30 l224.90,-224.90 h-1.30 zM413.08,276.40 h1.30 l224.90,-224.90 h-1.30 zM416.08,276.40 h1.30 l224.90,-224.90 h-1.30 zM419.08,276.40 h1.30 l224.90,-224.90 h-1.30 zM422.08,276.40 h1.30 l224.90,-224.90 h-1.30 zM425.08,276.40 h1.30 l224.90,-224.90 h-1.30 zM428.08,276.40 h1.30 l224.90,-224.90 h-1.30 zM431.08,276.40 h1.30 l224.90,-224.90 h-1.30 zM434.08,276.40 h1.30 l224.90,-224.90 h-1.30 zM437.08,276.40 h1.30 l224.90,-224.90 h-1.30 zM440.08,276.40 h1.30 l224.90,-224.90 h-1.30 zM443.08,276.40 h1.30 l224.90,-224.90 h-1.30 zM446.08,276.40 h1.30 l224.90,-224.90 h-1.30 zM449.08,276.40 h1.30 l224.90,-224.90 h-1.30 zM452.08,276.40 h1.30 l224.90,-224.90 h-1.30 zM455.08,276.40 h1.30 l224.90,-224.90 h-1.30 zM458.08,276.40 h1.30 l224.90,-224.90 h-1.30 zM461.08,276.40 h1.30 l224.90,-224.90 h-1.30 z" fill="#333" stroke="none"/></g><rect x="430.40" y="51.50" width="29.40" height="224.90" fill="none" stroke="#000" stroke-width="1.30"/>
<path d="M473.60,175.35 V170.30" stroke="#000" stroke-width="1.3" fill="none"/><path d="M469.20,170.30 H478.00" stroke="#000" stroke-width="1.6" fill="none"/>
<clipPath id="cw9"><rect x="459.80" y="175.35" width="28.70" height="101.05"/></clipPath><rect x="459.80" y="175.35" width="28.70" height="101.05" fill="#000"/><path clip-path="url(#cw9)" d="M452.55,171.15 L456.28,174.15 L460.00,171.15 L463.73,174.15 L467.45,171.15 L471.18,174.15 L474.90,171.15 L478.62,174.15 L482.35,171.15 L486.07,174.15 L489.80,171.15 L493.52,174.15 L493.52,175.30 L489.80,172.30 L486.07,175.30 L482.35,172.30 L478.62,175.30 L474.90,172.30 L471.18,175.30 L467.45,172.30 L463.73,175.30 L460.00,172.30 L456.28,175.30 L452.55,172.30Z M452.55,175.55 L456.28,178.55 L460.00,175.55 L463.73,178.55 L467.45,175.55 L471.18,178.55 L474.90,175.55 L478.62,178.55 L482.35,175.55 L486.07,178.55 L489.80,175.55 L493.52,178.55 L493.52,179.70 L489.80,176.70 L486.07,179.70 L482.35,176.70 L478.62,179.70 L474.90,176.70 L471.18,179.70 L467.45,176.70 L463.73,179.70 L460.00,176.70 L456.28,179.70 L452.55,176.70Z M452.55,179.95 L456.28,182.95 L460.00,179.95 L463.73,182.95 L467.45,179.95 L471.18,182.95 L474.90,179.95 L478.62,182.95 L482.35,179.95 L486.07,182.95 L489.80,179.95 L493.52,182.95 L493.52,184.10 L489.80,181.10 L486.07,184.10 L482.35,181.10 L478.62,184.10 L474.90,181.10 L471.18,184.10 L467.45,181.10 L463.73,184.10 L460.00,181.10 L456.28,184.10 L452.55,181.10Z M452.55,184.35 L456.28,187.35 L460.00,184.35 L463.73,187.35 L467.45,184.35 L471.18,187.35 L474.90,184.35 L478.62,187.35 L482.35,184.35 L486.07,187.35 L489.80,184.35 L493.52,187.35 L493.52,188.50 L489.80,185.50 L486.07,188.50 L482.35,185.50 L478.62,188.50 L474.90,185.50 L471.18,188.50 L467.45,185.50 L463.73,188.50 L460.00,185.50 L456.28,188.50 L452.55,185.50Z M452.55,188.75 L456.28,191.75 L460.00,188.75 L463.73,191.75 L467.45,188.75 L471.18,191.75 L474.90,188.75 L478.62,191.75 L482.35,188.75 L486.07,191.75 L489.80,188.75 L493.52,191.75 L493.52,192.90 L489.80,189.90 L486.07,192.90 L482.35,189.90 L478.62,192.90 L474.90,189.90 L471.18,192.90 L467.45,189.90 L463.73,192.90 L460.00,189.90 L456.28,192.90 L452.55,189.90Z M452.55,193.15 L456.28,196.15 L460.00,193.15 L463.73,196.15 L467.45,193.15 L471.18,196.15 L474.90,193.15 L478.62,196.15 L482.35,193.15 L486.07,196.15 L489.80,193.15 L493.52,196.15 L493.52,197.30 L489.80,194.30 L486.07,197.30 L482.35,194.30 L478.62,197.30 L474.90,194.30 L471.18,197.30 L467.45,194.30 L463.73,197.30 L460.00,194.30 L456.28,197.30 L452.55,194.30Z M452.55,197.55 L456.28,200.55 L460.00,197.55 L463.73,200.55 L467.45,197.55 L471.18,200.55 L474.90,197.55 L478.62,200.55 L482.35,197.55 L486.07,200.55 L489.80,197.55 L493.52,200.55 L493.52,201.70 L489.80,198.70 L486.07,201.70 L482.35,198.70 L478.62,201.70 L474.90,198.70 L471.18,201.70 L467.45,198.70 L463.73,201.70 L460.00,198.70 L456.28,201.70 L452.55,198.70Z M452.55,201.95 L456.28,204.95 L460.00,201.95 L463.73,204.95 L467.45,201.95 L471.18,204.95 L474.90,201.95 L478.62,204.95 L482.35,201.95 L486.07,204.95 L489.80,201.95 L493.52,204.95 L493.52,206.10 L489.80,203.10 L486.07,206.10 L482.35,203.10 L478.62,206.10 L474.90,203.10 L471.18,206.10 L467.45,203.10 L463.73,206.10 L460.00,203.10 L456.28,206.10 L452.55,203.10Z M452.55,206.35 L456.28,209.35 L460.00,206.35 L463.73,209.35 L467.45,206.35 L471.18,209.35 L474.90,206.35 L478.62,209.35 L482.35,206.35 L486.07,209.35 L489.80,206.35 L493.52,209.35 L493.52,210.50 L489.80,207.50 L486.07,210.50 L482.35,207.50 L478.62,210.50 L474.90,207.50 L471.18,210.50 L467.45,207.50 L463.73,210.50 L460.00,207.50 L456.28,210.50 L452.55,207.50Z M452.55,210.75 L456.28,213.75 L460.00,210.75 L463.73,213.75 L467.45,210.75 L471.18,213.75 L474.90,210.75 L478.62,213.75 L482.35,210.75 L486.07,213.75 L489.80,210.75 L493.52,213.75 L493.52,214.90 L489.80,211.90 L486.07,214.90 L482.35,211.90 L478.62,214.90 L474.90,211.90 L471.18,214.90 L467.45,211.90 L463.73,214.90 L460.00,211.90 L456.28,214.90 L452.55,211.90Z M452.55,215.15 L456.28,218.15 L460.00,215.15 L463.73,218.15 L467.45,215.15 L471.18,218.15 L474.90,215.15 L478.62,218.15 L482.35,215.15 L486.07,218.15 L489.80,215.15 L493.52,218.15 L493.52,219.30 L489.80,216.30 L486.07,219.30 L482.35,216.30 L478.62,219.30 L474.90,216.30 L471.18,219.30 L467.45,216.30 L463.73,219.30 L460.00,216.30 L456.28,219.30 L452.55,216.30Z M452.55,219.55 L456.28,222.55 L460.00,219.55 L463.73,222.55 L467.45,219.55 L471.18,222.55 L474.90,219.55 L478.62,222.55 L482.35,219.55 L486.07,222.55 L489.80,219.55 L493.52,222.55 L493.52,223.70 L489.80,220.70 L486.07,223.70 L482.35,220.70 L478.62,223.70 L474.90,220.70 L471.18,223.70 L467.45,220.70 L463.73,223.70 L460.00,220.70 L456.28,223.70 L452.55,220.70Z M452.55,223.95 L456.28,226.95 L460.00,223.95 L463.73,226.95 L467.45,223.95 L471.18,226.95 L474.90,223.95 L478.62,226.95 L482.35,223.95 L486.07,226.95 L489.80,223.95 L493.52,226.95 L493.52,228.10 L489.80,225.10 L486.07,228.10 L482.35,225.10 L478.62,228.10 L474.90,225.10 L471.18,228.10 L467.45,225.10 L463.73,228.10 L460.00,225.10 L456.28,228.10 L452.55,225.10Z M452.55,228.35 L456.28,231.35 L460.00,228.35 L463.73,231.35 L467.45,228.35 L471.18,231.35 L474.90,228.35 L478.62,231.35 L482.35,228.35 L486.07,231.35 L489.80,228.35 L493.52,231.35 L493.52,232.50 L489.80,229.50 L486.07,232.50 L482.35,229.50 L478.62,232.50 L474.90,229.50 L471.18,232.50 L467.45,229.50 L463.73,232.50 L460.00,229.50 L456.28,232.50 L452.55,229.50Z M452.55,232.75 L456.28,235.75 L460.00,232.75 L463.73,235.75 L467.45,232.75 L471.18,235.75 L474.90,232.75 L478.62,235.75 L482.35,232.75 L486.07,235.75 L489.80,232.75 L493.52,235.75 L493.52,236.90 L489.80,233.90 L486.07,236.90 L482.35,233.90 L478.62,236.90 L474.90,233.90 L471.18,236.90 L467.45,233.90 L463.73,236.90 L460.00,233.90 L456.28,236.90 L452.55,233.90Z M452.55,237.15 L456.28,240.15 L460.00,237.15 L463.73,240.15 L467.45,237.15 L471.18,240.15 L474.90,237.15 L478.62,240.15 L482.35,237.15 L486.07,240.15 L489.80,237.15 L493.52,240.15 L493.52,241.30 L489.80,238.30 L486.07,241.30 L482.35,238.30 L478.62,241.30 L474.90,238.30 L471.18,241.30 L467.45,238.30 L463.73,241.30 L460.00,238.30 L456.28,241.30 L452.55,238.30Z M452.55,241.55 L456.28,244.55 L460.00,241.55 L463.73,244.55 L467.45,241.55 L471.18,244.55 L474.90,241.55 L478.62,244.55 L482.35,241.55 L486.07,244.55 L489.80,241.55 L493.52,244.55 L493.52,245.70 L489.80,242.70 L486.07,245.70 L482.35,242.70 L478.62,245.70 L474.90,242.70 L471.18,245.70 L467.45,242.70 L463.73,245.70 L460.00,242.70 L456.28,245.70 L452.55,242.70Z M452.55,245.95 L456.28,248.95 L460.00,245.95 L463.73,248.95 L467.45,245.95 L471.18,248.95 L474.90,245.95 L478.62,248.95 L482.35,245.95 L486.07,248.95 L489.80,245.95 L493.52,248.95 L493.52,250.10 L489.80,247.10 L486.07,250.10 L482.35,247.10 L478.62,250.10 L474.90,247.10 L471.18,250.10 L467.45,247.10 L463.73,250.10 L460.00,247.10 L456.28,250.10 L452.55,247.10Z M452.55,250.35 L456.28,253.35 L460.00,250.35 L463.73,253.35 L467.45,250.35 L471.18,253.35 L474.90,250.35 L478.62,253.35 L482.35,250.35 L486.07,253.35 L489.80,250.35 L493.52,253.35 L493.52,254.50 L489.80,251.50 L486.07,254.50 L482.35,251.50 L478.62,254.50 L474.90,251.50 L471.18,254.50 L467.45,251.50 L463.73,254.50 L460.00,251.50 L456.28,254.50 L452.55,251.50Z M452.55,254.75 L456.28,257.75 L460.00,254.75 L463.73,257.75 L467.45,254.75 L471.18,257.75 L474.90,254.75 L478.62,257.75 L482.35,254.75 L486.07,257.75 L489.80,254.75 L493.52,257.75 L493.52,258.90 L489.80,255.90 L486.07,258.90 L482.35,255.90 L478.62,258.90 L474.90,255.90 L471.18,258.90 L467.45,255.90 L463.73,258.90 L460.00,255.90 L456.28,258.90 L452.55,255.90Z M452.55,259.15 L456.28,262.15 L460.00,259.15 L463.73,262.15 L467.45,259.15 L471.18,262.15 L474.90,259.15 L478.62,262.15 L482.35,259.15 L486.07,262.15 L489.80,259.15 L493.52,262.15 L493.52,263.30 L489.80,260.30 L486.07,263.30 L482.35,260.30 L478.62,263.30 L474.90,260.30 L471.18,263.30 L467.45,260.30 L463.73,263.30 L460.00,260.30 L456.28,263.30 L452.55,260.30Z M452.55,263.55 L456.28,266.55 L460.00,263.55 L463.73,266.55 L467.45,263.55 L471.18,266.55 L474.90,263.55 L478.62,266.55 L482.35,263.55 L486.07,266.55 L489.80,263.55 L493.52,266.55 L493.52,267.70 L489.80,264.70 L486.07,267.70 L482.35,264.70 L478.62,267.70 L474.90,264.70 L471.18,267.70 L467.45,264.70 L463.73,267.70 L460.00,264.70 L456.28,267.70 L452.55,264.70Z M452.55,267.95 L456.28,270.95 L460.00,267.95 L463.73,270.95 L467.45,267.95 L471.18,270.95 L474.90,267.95 L478.62,270.95 L482.35,267.95 L486.07,270.95 L489.80,267.95 L493.52,270.95 L493.52,272.10 L489.80,269.10 L486.07,272.10 L482.35,269.10 L478.62,272.10 L474.90,269.10 L471.18,272.10 L467.45,269.10 L463.73,272.10 L460.00,269.10 L456.28,272.10 L452.55,269.10Z M452.55,272.35 L456.28,275.35 L460.00,272.35 L463.73,275.35 L467.45,272.35 L471.18,275.35 L474.90,272.35 L478.62,275.35 L482.35,272.35 L486.07,275.35 L489.80,272.35 L493.52,275.35 L493.52,276.50 L489.80,273.50 L486.07,276.50 L482.35,273.50 L478.62,276.50 L474.90,273.50 L471.18,276.50 L467.45,273.50 L463.73,276.50 L460.00,273.50 L456.28,276.50 L452.55,273.50Z M452.55,276.75 L456.28,279.75 L460.00,276.75 L463.73,279.75 L467.45,276.75 L471.18,279.75 L474.90,276.75 L478.62,279.75 L482.35,276.75 L486.07,279.75 L489.80,276.75 L493.52,279.75 L493.52,280.90 L489.80,277.90 L486.07,280.90 L482.35,277.90 L478.62,280.90 L474.90,277.90 L471.18,280.90 L467.45,277.90 L463.73,280.90 L460.00,277.90 L456.28,280.90 L452.55,277.90Z" fill="#e8e8e8" stroke="none"/>
<rect x="459.80" y="175.35" width="28.70" height="101.05" fill="none" stroke="#000" stroke-width="1.4"/>
<path d="M56.20,3.70 H517.40 V276.40" stroke="#000" stroke-width="1.2" fill="none"/>
<path d="M66.80,3.70 V276.40" stroke="#000" stroke-width="1.3" fill="none"/>
<path d="M56.20,276.40 H518.00" stroke="#000" stroke-width="1.5" fill="none"/>
<path d="M56.2,74.30 H66.80" stroke="#000" stroke-width="1.3"/>
<path d="M56.2,143.10 H66.80" stroke="#000" stroke-width="1.3"/>
<path d="M56.2,209.80 H66.80" stroke="#000" stroke-width="1.3"/>
<g><text transform="translate(44.79,11.70) rotate(0.3) translate(-9.01,0)" font-size="15.8" textLength="18.02" lengthAdjust="spacingAndGlyphs" style="stroke-width:0.3px">40</text></g>
<g><text transform="translate(44.79,80.40) rotate(0.3) translate(-9.01,0)" font-size="15.8" textLength="18.02" lengthAdjust="spacingAndGlyphs" style="stroke-width:0.3px">30</text></g>
<g><text transform="translate(44.79,148.10) rotate(0.3) translate(-9.01,0)" font-size="15.8" textLength="18.02" lengthAdjust="spacingAndGlyphs" style="stroke-width:0.3px">20</text></g>
<clipPath id="cl1"><rect x="33.78" y="199.80" width="22.02" height="14.20"/><rect x="39.21" y="213.50" width="2.92" height="4"/><rect x="44.79" y="213.50" width="11.01" height="4"/></clipPath>
<g clip-path="url(#cl1)"><text transform="translate(44.79,215.80) rotate(0.3) translate(-9.01,0)" font-size="15.8" textLength="18.02" lengthAdjust="spacingAndGlyphs" style="stroke-width:0.3px">10</text></g>
<g><text transform="translate(49.30,283.50) rotate(0.3) translate(-4.50,0)" font-size="15.8" textLength="9.01" lengthAdjust="spacingAndGlyphs" style="stroke-width:0.3px">0</text></g>
<g><text transform="translate(118.70,301.10) rotate(0.3) translate(-4.50,0)" font-size="15.8" textLength="9.01" lengthAdjust="spacingAndGlyphs" style="stroke-width:0.3px">0</text></g>
<clipPath id="cl2"><rect x="188.68" y="285.10" width="36.15" height="13.90"/><rect x="217.14" y="298.50" width="2.97" height="4"/><rect x="188.68" y="298.50" width="24.96" height="4"/></clipPath>
<g clip-path="url(#cl2)"><text transform="translate(206.75,301.10) rotate(0.3) translate(-16.07,0)" font-size="15.8" textLength="32.15" lengthAdjust="spacingAndGlyphs" style="stroke-width:0.3px">0.01</text></g>
<clipPath id="cl3"><rect x="274.46" y="285.10" width="26.08" height="13.90"/><rect x="293.06" y="298.50" width="2.88" height="4"/><rect x="274.46" y="298.50" width="15.25" height="4"/></clipPath>
<g clip-path="url(#cl3)"><text transform="translate(287.50,301.10) rotate(0.3) translate(-11.04,0)" font-size="15.8" textLength="22.08" lengthAdjust="spacingAndGlyphs" style="stroke-width:0.3px">0.1</text></g>
<clipPath id="cl4"><rect x="369.80" y="285.10" width="13.01" height="13.90"/><rect x="375.23" y="298.50" width="2.92" height="4"/></clipPath>
<g clip-path="url(#cl4)"><text transform="translate(376.30,301.10) rotate(0.3) translate(-4.50,0)" font-size="15.8" textLength="9.01" lengthAdjust="spacingAndGlyphs" style="stroke-width:0.3px">1</text></g>
<g><text transform="translate(457.30,301.10) rotate(0.3) translate(-4.50,0)" font-size="15.8" textLength="9.01" lengthAdjust="spacingAndGlyphs" style="stroke-width:0.3px">5</text></g>
<text transform="translate(270.8,332) rotate(0.2)" font-size="16.2">(<tspan font-family="'Liberation Serif', 'DejaVu Serif', serif" font-weight="normal" font-size="16.8" stroke="none">μ</tspan>mol/L)</text>
<text transform="translate(12.60,275.19) rotate(-90)" font-size="15.3" textLength="59.66" lengthAdjust="spacingAndGlyphs">Number</text>
<text transform="translate(12.60,209.58) rotate(-90)" font-size="15.3" textLength="13.79" lengthAdjust="spacingAndGlyphs">of</text>
<text transform="translate(12.60,190.19) rotate(-90)" font-size="15.3" textLength="66.86" lengthAdjust="spacingAndGlyphs">Migrated</text>
<text transform="translate(12.60,118.70) rotate(-90)" font-size="15.3" textLength="38.04" lengthAdjust="spacingAndGlyphs">Cells</text>
<text transform="translate(12.60,75.28) rotate(-90)" font-size="15.3" textLength="23.49" lengthAdjust="spacingAndGlyphs">per</text>
<text transform="translate(12.60,45.28) rotate(-90)" font-size="15.3" textLength="36.81" lengthAdjust="spacingAndGlyphs">Field</text>
<text transform="translate(216.30,191.90) rotate(0.3)" font-size="12.5" text-anchor="middle" style="font-family:'Liberation Serif',serif;font-weight:normal;stroke:none;fill:#333">*</text>
<text transform="translate(301.50,209.20) rotate(0.3)" font-size="12.5" text-anchor="middle" style="font-family:'Liberation Serif',serif;font-weight:normal;stroke:none;fill:#333">*</text>
<text transform="translate(387.90,189.80) rotate(0.3)" font-size="12.5" text-anchor="middle" style="font-family:'Liberation Serif',serif;font-weight:normal;stroke:none;fill:#333">*</text>
<text transform="translate(473.30,162.50) rotate(0.3)" font-size="12.5" text-anchor="middle" style="font-family:'Liberation Serif',serif;font-weight:normal;stroke:none;fill:#333">*</text>
<clipPath id="ch98"><rect x="92.60" y="32.20" width="36.80" height="13.30"/></clipPath><rect x="92.60" y="32.20" width="36.80" height="13.30" fill="#fff"/><g clip-path="url(#ch98)"><path d="M73.97,45.50 h1.30 l13.30,-13.30 h-1.30 zM76.97,45.50 h1.30 l13.30,-13.30 h-1.30 zM79.97,45.50 h1.30 l13.30,-13.30 h-1.30 zM82.97,45.50 h1.30 l13.30,-13.30 h-1.30 zM85.97,45.50 h1.30 l13.30,-13.30 h-1.30 zM88.97,45.50 h1.30 l13.30,-13.30 h-1.30 zM91.97,45.50 h1.30 l13.30,-13.30 h-1.30 zM94.97,45.50 h1.30 l13.30,-13.30 h-1.30 zM97.97,45.50 h1.30 l13.30,-13.30 h-1.30 zM100.97,45.50 h1.30 l13.30,-13.30 h-1.30 zM103.97,45.50 h1.30 l13.30,-13.30 h-1.30 zM106.97,45.50 h1.30 l13.30,-13.30 h-1.30 zM109.97,45.50 h1.30 l13.30,-13.30 h-1.30 zM112.97,45.50 h1.30 l13.30,-13.30 h-1.30 zM115.97,45.50 h1.30 l13.30,-13.30 h-1.30 zM118.97,45.50 h1.30 l13.30,-13.30 h-1.30 zM121.97,45.50 h1.30 l13.30,-13.30 h-1.30 zM124.97,45.50 h1.30 l13.30,-13.30 h-1.30 zM127.97,45.50 h1.30 l13.30,-13.30 h-1.30 zM130.97,45.50 h1.30 l13.30,-13.30 h-1.30 z" fill="#333" stroke="none"/></g><rect x="92.60" y="32.20" width="36.80" height="13.30" fill="none" stroke="#000" stroke-width="1.20"/>
<clipPath id="cw99"><rect x="92.60" y="59.00" width="36.80" height="12.80"/></clipPath><rect x="92.60" y="59.00" width="36.80" height="12.80" fill="#000"/><path clip-path="url(#cw99)" d="M86.15,56.80 L89.87,59.80 L93.60,56.80 L97.32,59.80 L101.05,56.80 L104.77,59.80 L108.50,56.80 L112.22,59.80 L115.95,56.80 L119.67,59.80 L123.40,56.80 L127.12,59.80 L130.85,56.80 L134.57,59.80 L134.57,60.95 L130.85,57.95 L127.12,60.95 L123.40,57.95 L119.67,60.95 L115.95,57.95 L112.22,60.95 L108.50,57.95 L104.77,60.95 L101.05,57.95 L97.32,60.95 L93.60,57.95 L89.87,60.95 L86.15,57.95Z M86.15,61.20 L89.87,64.20 L93.60,61.20 L97.32,64.20 L101.05,61.20 L104.77,64.20 L108.50,61.20 L112.22,64.20 L115.95,61.20 L119.67,64.20 L123.40,61.20 L127.12,64.20 L130.85,61.20 L134.57,64.20 L134.57,65.35 L130.85,62.35 L127.12,65.35 L123.40,62.35 L119.67,65.35 L115.95,62.35 L112.22,65.35 L108.50,62.35 L104.77,65.35 L101.05,62.35 L97.32,65.35 L93.60,62.35 L89.87,65.35 L86.15,62.35Z M86.15,65.60 L89.87,68.60 L93.60,65.60 L97.32,68.60 L101.05,65.60 L104.77,68.60 L108.50,65.60 L112.22,68.60 L115.95,65.60 L119.67,68.60 L123.40,65.60 L127.12,68.60 L130.85,65.60 L134.57,68.60 L134.57,69.75 L130.85,66.75 L127.12,69.75 L123.40,66.75 L119.67,69.75 L115.95,66.75 L112.22,69.75 L108.50,66.75 L104.77,69.75 L101.05,66.75 L97.32,69.75 L93.60,66.75 L89.87,69.75 L86.15,66.75Z M86.15,70.00 L89.87,73.00 L93.60,70.00 L97.32,73.00 L101.05,70.00 L104.77,73.00 L108.50,70.00 L112.22,73.00 L115.95,70.00 L119.67,73.00 L123.40,70.00 L127.12,73.00 L130.85,70.00 L134.57,73.00 L134.57,74.15 L130.85,71.15 L127.12,74.15 L123.40,71.15 L119.67,74.15 L115.95,71.15 L112.22,74.15 L108.50,71.15 L104.77,74.15 L101.05,71.15 L97.32,74.15 L93.60,71.15 L89.87,74.15 L86.15,71.15Z M86.15,74.40 L89.87,77.40 L93.60,74.40 L97.32,77.40 L101.05,74.40 L104.77,77.40 L108.50,74.40 L112.22,77.40 L115.95,74.40 L119.67,77.40 L123.40,74.40 L127.12,77.40 L130.85,74.40 L134.57,77.40 L134.57,78.55 L130.85,75.55 L127.12,78.55 L123.40,75.55 L119.67,78.55 L115.95,75.55 L112.22,78.55 L108.50,75.55 L104.77,78.55 L101.05,75.55 L97.32,78.55 L93.60,75.55 L89.87,78.55 L86.15,75.55Z" fill="#e8e8e8" stroke="none"/>
<rect x="92.6" y="59.0" width="36.8" height="12.8" fill="none" stroke="#000" stroke-width="1.4"/>
<text transform="translate(137.2,43.9) rotate(0.2)" font-size="15.9" textLength="79" lengthAdjust="spacingAndGlyphs">pGIB sPLA<tspan font-size="9.5" dy="3.4">2</tspan></text>
<text transform="translate(138.8,70.6) rotate(0.2)" font-size="15.9" textLength="37" lengthAdjust="spacingAndGlyphs">H48Q</text>
</svg></body></html>
